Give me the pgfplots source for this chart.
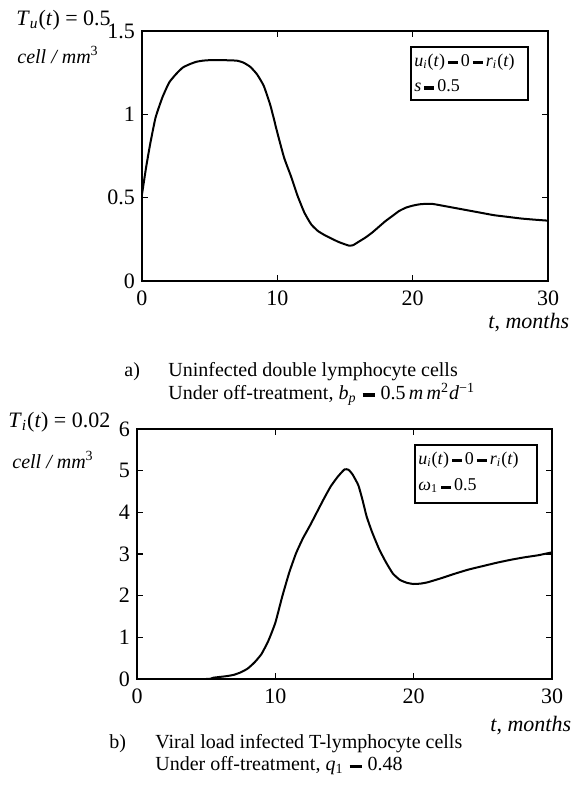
\documentclass[border=0pt]{standalone}
\usepackage{fontspec}
\setmainfont{Liberation Serif}
\usepackage{pgfplots}
\usepackage{pgfplotstable}
\pgfplotsset{compat=1.18}
\newcommand{\beq}{\,\rule[0.28ex]{0.55em}{0.38ex}\,}
\newcommand{\cbeq}{\hspace{0.3em}\rule[0.28ex]{0.6em}{0.38ex}\hspace{0.3em}}

\pgfplotstableread{
t y
0 0.52
0.3 0.68
0.6 0.82
1.0 0.98
1.5 1.10
2.0 1.19
2.5 1.24
3.0 1.28
3.5 1.30
4.0 1.315
4.5 1.322
5.0 1.325
6.0 1.325
7.0 1.322
7.5 1.31
8.0 1.285
8.5 1.24
9.0 1.17
9.5 1.05
10.0 0.89
10.5 0.74
11.0 0.63
11.5 0.51
12.0 0.41
12.5 0.34
13.0 0.30
13.5 0.275
14.0 0.255
14.5 0.235
15.0 0.22
15.3 0.212
15.6 0.215
16.0 0.235
16.5 0.26
17.0 0.29
17.5 0.325
18.0 0.36
18.5 0.39
19.0 0.42
19.5 0.44
20.0 0.452
20.5 0.46
21.0 0.463
21.5 0.462
22.0 0.455
23.0 0.44
24.0 0.425
25.0 0.41
26.0 0.395
27.0 0.385
28.0 0.375
29.0 0.368
30.0 0.362
}\dataA

\pgfplotstableread{
t y
0 0
5.0 0.0
5.5 0.03
6.0 0.05
6.5 0.07
7.0 0.10
7.5 0.16
8.0 0.25
8.5 0.40
9.0 0.60
9.5 0.92
10.0 1.35
10.5 1.98
11.0 2.55
11.5 3.02
12.0 3.38
12.5 3.68
13.0 4.00
13.5 4.32
14.0 4.62
14.5 4.85
15.0 5.03
15.3 5.02
15.6 4.90
16.0 4.65
16.3 4.30
16.6 3.90
17.0 3.52
17.5 3.12
18.0 2.80
18.5 2.53
19.0 2.38
19.5 2.31
20.0 2.28
20.5 2.29
21.0 2.32
22.0 2.42
23.0 2.53
24.0 2.63
25.0 2.71
26.0 2.79
27.0 2.86
28.0 2.92
29.0 2.97
30.0 3.04
}\dataB

\pgfplotsset{
  myax/.style={
    scale only axis, anchor=south west,
    xmin=0, xmax=30, xtick={0,10,20,30},
    tick align=inside, major tick length=3pt,
    axis line style={line width=0.8pt},
    every tick/.style={line width=0.8pt, black},
    ticklabel style={font=\fontsize{11}{11}\selectfont},
    xticklabel style={yshift=-1.5pt},
    /pgf/number format/assume math mode=true,
  }
}

\begin{document}
\begin{tikzpicture}
\useasboundingbox (0,0) rectangle (285.5pt,399pt);

% ---------- top ----------
\begin{axis}[myax, at={(71pt,258.5pt)}, width=203pt, height=125pt,
  ymin=0, ymax=1.5, ytick={0,0.5,1,1.5}]
\addplot[black, line width=1pt, smooth, tension=0.3] table[x=t,y=y] {\dataA};
\end{axis}

\node[anchor=west, inner sep=0pt] at (8pt,389pt) {\fontsize{11}{11}\selectfont\textit{T}\textsubscript{\textit{u}}(\textit{t}) = 0.5};
\node[anchor=west, inner sep=0pt] at (8.5pt,371.5pt) {\fontsize{10}{10}\selectfont\textit{cell / mm}\textsuperscript{3}};

\draw[line width=0.8pt] (205.5pt,349pt) rectangle (264pt,375.5pt);
\node[anchor=west, inner sep=0pt] at (207pt,368pt) {\fontsize{9}{9}\selectfont\textit{u}\textsubscript{\textit{i}}(\textit{t})\beq 0\beq\textit{r}\textsubscript{\textit{i}}(\textit{t})};
\node[anchor=west, inner sep=0pt] at (207pt,356pt) {\fontsize{9}{9}\selectfont\textit{s}\beq 0.5};

\node[anchor=west, inner sep=0pt] at (244pt,237.5pt) {\fontsize{11}{11}\selectfont\textit{t}, \textit{months}};

\node[anchor=west, inner sep=0pt] at (62pt,213pt) {\fontsize{10}{11}\selectfont a)};
\node[anchor=west, inner sep=0pt] at (84pt,213pt) {\fontsize{10}{11}\selectfont Uninfected double lymphocyte cells};
\node[anchor=west, inner sep=0pt] at (84pt,202pt) {\fontsize{10}{11}\selectfont Under off-treatment, \textit{b}\textsubscript{\textit{p}}\cbeq 0.5\,\textit{m\,m}\textsuperscript{2}\textit{d}\textsuperscript{\textminus1}};

% ---------- bottom ----------
\begin{axis}[myax, at={(68.5pt,59.5pt)}, width=207.5pt, height=125pt,
  ymin=0, ymax=6, ytick={0,1,2,3,4,5,6}]
\addplot[black, line width=1pt, smooth, tension=0.3] table[x=t,y=y] {\dataB};
\end{axis}

\node[anchor=west, inner sep=0pt] at (4pt,188pt) {\fontsize{11}{11}\selectfont\textit{T}\textsubscript{\textit{i}}(\textit{t}) = 0.02};
\node[anchor=west, inner sep=0pt] at (6pt,169pt) {\fontsize{10}{10}\selectfont\textit{cell / mm}\textsuperscript{3}};

\draw[line width=0.8pt] (207.5pt,147.5pt) rectangle (268.5pt,176.5pt);
\node[anchor=west, inner sep=0pt] at (209pt,169pt) {\fontsize{9}{9}\selectfont\textit{u}\textsubscript{\textit{i}}(\textit{t})\beq 0\beq\textit{r}\textsubscript{\textit{i}}(\textit{t})};
\node[anchor=west, inner sep=0pt] at (209pt,156pt) {\fontsize{9}{9}\selectfont\textit{ω}\textsubscript{1}\beq 0.5};

\node[anchor=west, inner sep=0pt] at (245pt,36pt) {\fontsize{11}{11}\selectfont\textit{t}, \textit{months}};

\node[anchor=west, inner sep=0pt] at (54.5pt,27pt) {\fontsize{10}{11}\selectfont b)};
\node[anchor=west, inner sep=0pt] at (77.5pt,27pt) {\fontsize{10}{11}\selectfont Viral load infected T-lymphocyte cells};
\node[anchor=west, inner sep=0pt] at (77.5pt,16pt) {\fontsize{10}{11}\selectfont Under off-treatment, \textit{q}\textsubscript{1}\cbeq 0.48};
\end{tikzpicture}
\end{document}
